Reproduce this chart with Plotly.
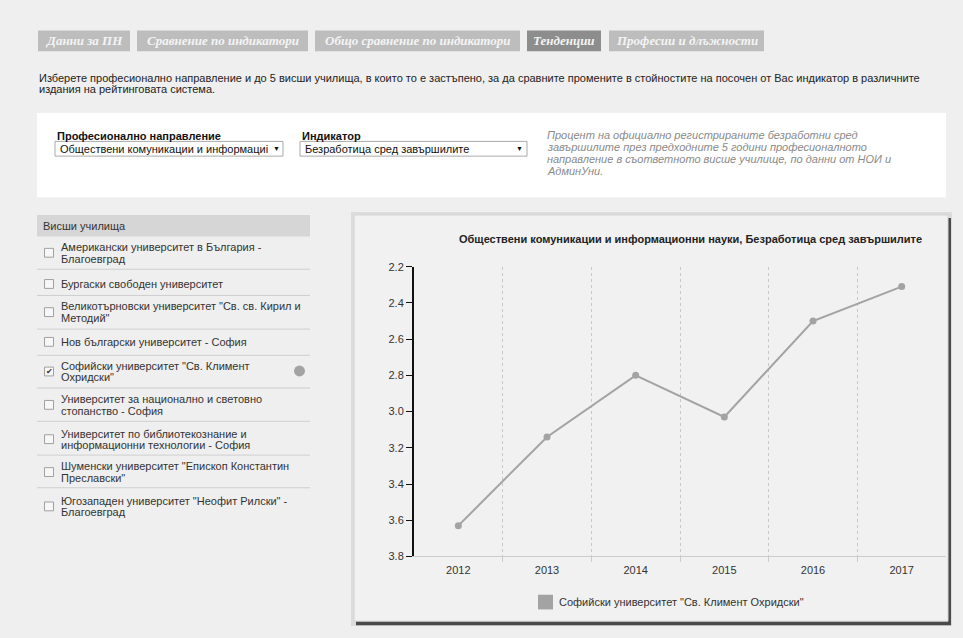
import plotly.graph_objects as go

W, H = 963, 638


def X(px):
    return px / W


def Y(py):
    return 1 - py / H


# ---------------- data ----------------
years = [2012, 2013, 2014, 2015, 2016, 2017]
unemployment = [3.63, 3.14, 2.80, 3.03, 2.50, 2.31]
y_ticks = [2.2, 2.4, 2.6, 2.8, 3.0, 3.2, 3.4, 3.6, 3.8]
series_name = 'Софийски университет "Св. Климент Охридски"'
chart_title = "Обществени комуникации и информационни науки, Безработица сред завършилите"

tabs = ["Данни за ПН", "Сравнение по индикатори", "Общо сравнение по индикатори",
        "Тенденции", "Професии и длъжности"]
active_tab = "Тенденции"

intro_lines = [
    "Изберете професионално направление и до 5 висши училища, в които то е застъпено, "
    "за да сравните промените в стойностите на посочен от Вас индикатор в различните",
    "издания на рейтинговата система.",
]
field_label = "Професионално направление"
field_value = "Обществени комуникации и информациі"
indicator_label = "Индикатор"
indicator_value = "Безработица сред завършилите"
description_lines = [
    "Процент на официално регистрираните безработни сред",
    "завършилите през предходните 5 години професионалното",
    "направление в съответното висше училище, по данни от НОИ и",
    "АдминУни.",
]
list_header = "Висши училища"
universities = [
    ["Американски университет в България -", "Благоевград"],
    ["Бургаски свободен университет"],
    ['Великотърновски университет "Св. св. Кирил и', 'Методий"'],
    ["Нов български университет - София"],
    ['Софийски университет "Св. Климент', 'Охридски"'],
    ["Университет за национално и световно", "стопанство - София"],
    ["Университет по библиотекознание и", "информационни технологии - София"],
    ['Шуменски университет "Епископ Константин', 'Преславски"'],
    ['Югозападен университет "Неофит Рилски" -', "Благоевград"],
]
selected = [False, False, False, False, True, False, False, False, False]

# ---------------- styles / layout geometry ----------------
PAGE_BG = "#efefef"
SERIES_COLOR = "#a3a3a3"
TEXT = "#333333"
FONT = "Arial, Liberation Sans, sans-serif"

tab_boxes = [(38, 130), (137, 308), (315, 520), (527, 601), (609, 764)]
tab_top, tab_bot = 25, 46

item_rows = [  # (line y positions, checkbox y)
    ([245.7, 257.7], 251.5),
    ([283.3], 283.3),
    ([306.0, 318.3], 312),
    ([342.3], 342.3),
    ([366.7, 378.3], 372.5),
    ([401.0, 412.5], 406.5),
    ([435.7, 447.3], 441.5),
    ([469.3, 481.0], 475),
    ([504.3, 516.0], 510),
]
separators = [268.3, 295, 329.3, 356, 389.3, 423.3, 457.7, 491]

shapes = []
annotations = []


def rect(x0, y0, x1, y1, fill, line=None, lw=0, layer="below"):
    shapes.append(dict(type="rect", xref="paper", yref="paper",
                       x0=X(x0), x1=X(x1), y0=Y(y1), y1=Y(y0),
                       fillcolor=fill, layer=layer,
                       line=dict(color=line or fill, width=lw)))


def text(x, y, s, size=11, color=TEXT, anchor="left", family=FONT):
    annotations.append(dict(xref="paper", yref="paper", x=X(x), y=Y(y), text=s,
                            showarrow=False, xanchor=anchor, yanchor="middle",
                            font=dict(family=family, size=size, color=color)))


# tabs
for name, (x0, x1) in zip(tabs, tab_boxes):
    active = name == active_tab
    rect(x0, tab_top, x1, tab_bot, "#8d8d8d" if active else "#bdbdbd")
    text((x0 + x1) / 2, (tab_top + tab_bot) / 2, "<b><i>" + name + "</i></b>",
         size=13, color="#f4f4f4", anchor="center",
         family="Liberation Serif, DejaVu Serif, serif")

# intro text
text(37, 73, intro_lines[0], size=11, color="#222")
text(37, 85, intro_lines[1], size=11, color="#222")

# white panel
rect(37, 109, 946, 195, "#ffffff")
text(55, 132, "<b>" + field_label + "</b>", size=11, color="#111")
text(300, 132, "<b>" + indicator_label + "</b>", size=11, color="#111")
rect(55, 138, 283, 153, "#ffffff", "#a9a9a9", 1)
rect(300, 138, 527, 153, "#ffffff", "#a9a9a9", 1)
text(58, 145.5, field_value, size=11, color="#111")
text(303, 145.5, indicator_value, size=11, color="#111")
text(276, 145, "▼", size=7, color="#111", anchor="center")
text(519, 145, "▼", size=7, color="#111", anchor="center")
for i, ln in enumerate(description_lines):
    text(545, 131 + i * 12.5, "<i>" + ln + "</i>", size=11, color="#8a8a8a")

# left list
rect(37, 213, 310, 235, "#d6d6d6")
text(41, 224, list_header, size=11, color=TEXT)
for sy in separators:
    shapes.append(dict(type="line", xref="paper", yref="paper", layer="below",
                       x0=X(37), x1=X(310), y0=Y(sy), y1=Y(sy),
                       line=dict(color="#cfcfcf", width=1)))
for lines, (ly, cy), sel in zip(universities, item_rows, selected):
    rect(44.5, cy - 4.5, 53.5, cy + 4.5, "#f7f7f7", "#a0a0a0", 1)
    if sel:
        text(49, cy, "✔", size=8, color="#333", anchor="center")
        shapes.append(dict(type="circle", xref="paper", yref="paper", layer="below",
                           x0=X(294), x1=X(305), y0=Y(377.5), y1=Y(366.5),
                           fillcolor=SERIES_COLOR, line=dict(width=0)))
    for s, yy in zip(lines, ly):
        text(59, yy, s, size=11, color=TEXT)

# chart box with shadow
rect(351, 210, 952, 632, "#dcdcdc")
rect(356, 216, 951, 631, "#4a4a4a")
rect(354, 213, 948, 627, "#f1f1f1", "#d4d4d4", 1)

# chart title + legend
text(690, 237, "<b>" + chart_title + "</b>", size=11, color="#222", anchor="center")
rect(538, 600, 553, 615, SERIES_COLOR)
text(557, 607.5, series_name, size=11, color=TEXT)

# ---------------- figure ----------------
fig = go.Figure()
fig.add_trace(go.Scatter(
    x=years, y=unemployment, mode="lines+markers", name=series_name,
    line=dict(color=SERIES_COLOR, width=2),
    marker=dict(color=SERIES_COLOR, size=7),
    cliponaxis=False, showlegend=False, hoverinfo="skip",
))

fig.update_layout(
    width=W, height=H,
    margin=dict(l=0, r=0, t=0, b=0),
    paper_bgcolor=PAGE_BG, plot_bgcolor="rgba(0,0,0,0)",
    font=dict(family=FONT, size=11, color=TEXT),
    shapes=shapes, annotations=annotations,
    showlegend=False,
    xaxis=dict(
        domain=[X(414), X(946)], range=[years[0] - 0.5, years[-1] + 0.5],
        tickmode="array", tickvals=years, ticktext=[str(v) for v in years],
        ticks="", showgrid=False, zeroline=False,
        showline=True, linecolor="#cccccc", linewidth=1,
        ticklabelstandoff=3,
        tickfont=dict(family=FONT, size=11, color=TEXT),
        minor=dict(tickmode="array", tickvals=[v + 0.5 for v in years[:-1]],
                   ticks="outside", ticklen=5, tickcolor="#cccccc",
                   showgrid=True, gridcolor="#c8c8c8", griddash="dot", gridwidth=1),
    ),
    yaxis=dict(
        domain=[Y(561), Y(265.7)], range=[y_ticks[-1], y_ticks[0]],
        tickmode="array", tickvals=y_ticks, ticktext=["%.1f" % v for v in y_ticks],
        ticks="outside", ticklen=6, tickcolor="#111", tickwidth=1,
        showline=True, linecolor="#111", linewidth=2,
        showgrid=False, zeroline=False,
        tickfont=dict(family=FONT, size=11, color=TEXT),
    ),
)

fig.write_html(
    "out.html",
    config=dict(displayModeBar=False, staticPlot=True),
    post_script="document.body.style.margin='0';document.body.style.overflow='hidden';",
)
